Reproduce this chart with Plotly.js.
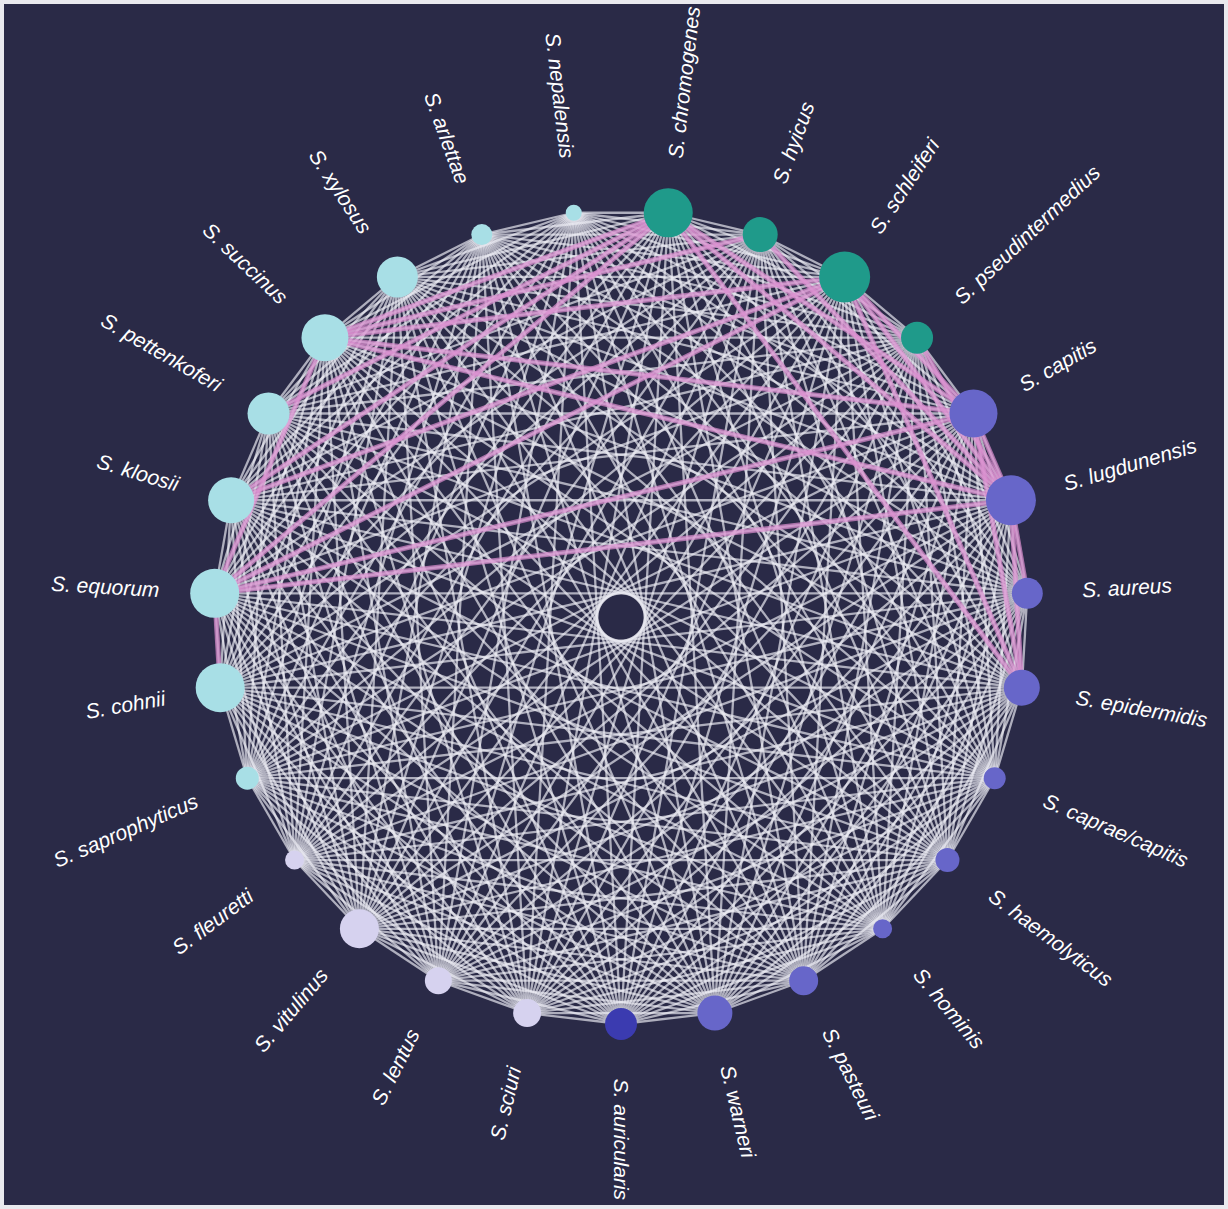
<!DOCTYPE html>
<html>
<head>
<meta charset="utf-8">
<script src="https://cdn.plot.ly/plotly-3.0.1.min.js"></script>
<style>
  html, body { margin: 0; padding: 0; background: #ffffff; }
  #chart { width: 1228px; height: 1209px; }
</style>
</head>
<body>
<div id="chart"></div>
<script>
// Species, listed clockwise starting at the bottom of the circle
const species = [
  "S. auricularis", "S. sciuri", "S. lentus", "S. vitulinus", "S. fleuretti",
  "S. saprophyticus", "S. cohnii", "S. equorum", "S. kloosii", "S. pettenkoferi",
  "S. succinus", "S. xylosus", "S. arlettae", "S. nepalensis", "S. chromogenes",
  "S. hyicus", "S. schleiferi", "S. pseudintermedius", "S. capitis", "S. lugdunensis",
  "S. aureus", "S. epidermidis", "S. caprae/capitis", "S. haemolyticus", "S. hominis",
  "S. pasteuri", "S. warneri"
];
// Node magnitude (drawn as marker diameter)
const nodeValue = [
  32, 28, 27, 39, 19,
  23, 49, 49, 46, 42,
  47, 41, 21, 16, 49,
  35, 51, 32, 48, 50,
  31, 36, 22, 24, 19,
  29, 35
];
// Group of each species
const nodeGroup = [
  "auricularis", "sciuri", "sciuri", "sciuri", "sciuri",
  "saprophyticus", "saprophyticus", "saprophyticus", "saprophyticus", "saprophyticus",
  "saprophyticus", "saprophyticus", "saprophyticus", "saprophyticus", "hyicus",
  "hyicus", "hyicus", "hyicus", "epidermidis", "epidermidis",
  "epidermidis", "epidermidis", "epidermidis", "epidermidis", "epidermidis",
  "epidermidis", "epidermidis"
];
// Highlighted links
const highlightFrom = [
  "S. chromogenes", "S. chromogenes", "S. chromogenes", "S. chromogenes", "S. chromogenes", "S. chromogenes", "S. chromogenes",
  "S. hyicus", "S. hyicus",
  "S. schleiferi", "S. schleiferi", "S. schleiferi", "S. schleiferi", "S. schleiferi", "S. schleiferi",
  "S. pseudintermedius",
  "S. capitis", "S. capitis", "S. capitis", "S. capitis",
  "S. lugdunensis", "S. lugdunensis", "S. lugdunensis", "S. lugdunensis",
  "S. equorum", "S. succinus"
];
const highlightTo = [
  "S. succinus", "S. pettenkoferi", "S. kloosii", "S. equorum", "S. capitis", "S. lugdunensis", "S. epidermidis",
  "S. lugdunensis", "S. succinus",
  "S. succinus", "S. equorum", "S. lugdunensis", "S. capitis", "S. epidermidis", "S. kloosii",
  "S. lugdunensis",
  "S. succinus", "S. equorum", "S. lugdunensis", "S. epidermidis",
  "S. succinus", "S. equorum", "S. epidermidis", "S. aureus",
  "S. cohnii", "S. equorum"
];

// ---- layout (styling / geometry) ----
const groupColor = {
  auricularis: "#3b3bb0",
  sciuri: "#d6d2ef",
  saprophyticus: "#a8dfe6",
  hyicus: "#1f9a8a",
  epidermidis: "#6766c9"
};
const W = 1228, H = 1209, PAD = 4;
const CX = 621, CY = 617, RAD = 407, LABEL_R = 462;
const N = species.length;
const ang = species.map((s, i) => (-90 - i * 360 / N) * Math.PI / 180);
const px = ang.map(a => CX + RAD * Math.cos(a));
const py = ang.map(a => CY - RAD * Math.sin(a));
const idx = {};
species.forEach((s, i) => idx[s] = i);

// all links (complete network)
const ex = [], ey = [];
for (let i = 0; i < N; i++) {
  for (let j = i + 1; j < N; j++) {
    ex.push(px[i], px[j], null);
    ey.push(py[i], py[j], null);
  }
}
const hx = [], hy = [];
highlightFrom.forEach((a, k) => {
  const i = idx[a], j = idx[highlightTo[k]];
  hx.push(px[i], px[j], null);
  hy.push(py[i], py[j], null);
});

const traces = [
  { type: "scatter", mode: "lines", x: ex, y: ey, hoverinfo: "skip",
    line: { color: "rgba(238,238,244,0.68)", width: 2.3 }, showlegend: false },
  { type: "scatter", mode: "lines", x: hx, y: hy, hoverinfo: "skip",
    line: { color: "rgba(218,142,206,0.72)", width: 5 }, showlegend: false },
  { type: "scatter", mode: "markers", x: px, y: py, text: species, hoverinfo: "text",
    cliponaxis: false,
    marker: { size: nodeValue, color: nodeGroup.map(g => groupColor[g]), line: { width: 0 }, opacity: 1 },
    showlegend: false }
];

// label geometry
const FONT = "Liberation Sans, Arial, sans-serif";
const FS = 21;
const cv = document.createElement("canvas").getContext("2d");
cv.font = "italic " + FS + "px 'Liberation Sans', Arial, sans-serif";
function norm(d) { while (d > 180) d -= 360; while (d <= -180) d += 360; return d; }
const annotations = species.map((s, i) => {
  const a = ang[i];
  const w = cv.measureText(s).width;
  const r = LABEL_R + w / 2;
  const deg = norm(a * 180 / Math.PI);
  let ta = Math.cos(a) >= -1e-9 ? -deg : 180 - deg;
  ta = norm(ta);
  return {
    x: CX + r * Math.cos(a), y: CY - r * Math.sin(a), xref: "x", yref: "y",
    text: "<i>" + s + "</i>", showarrow: false, textangle: ta,
    xanchor: "center", yanchor: "middle",
    font: { family: FONT, size: FS, color: "#ffffff" }
  };
});

const layout = {
  width: W, height: H,
  margin: { l: PAD, r: PAD, t: PAD, b: PAD },
  paper_bgcolor: "#e9e9ee",
  plot_bgcolor: "#2a2a47",
  xaxis: { range: [PAD, W - PAD], visible: false, fixedrange: true },
  yaxis: { range: [H - PAD, PAD], visible: false, fixedrange: true },
  annotations: annotations,
  showlegend: false,
  hovermode: "closest"
};
Plotly.newPlot("chart", traces, layout, { displayModeBar: false, staticPlot: true });
</script>
</body>
</html>
